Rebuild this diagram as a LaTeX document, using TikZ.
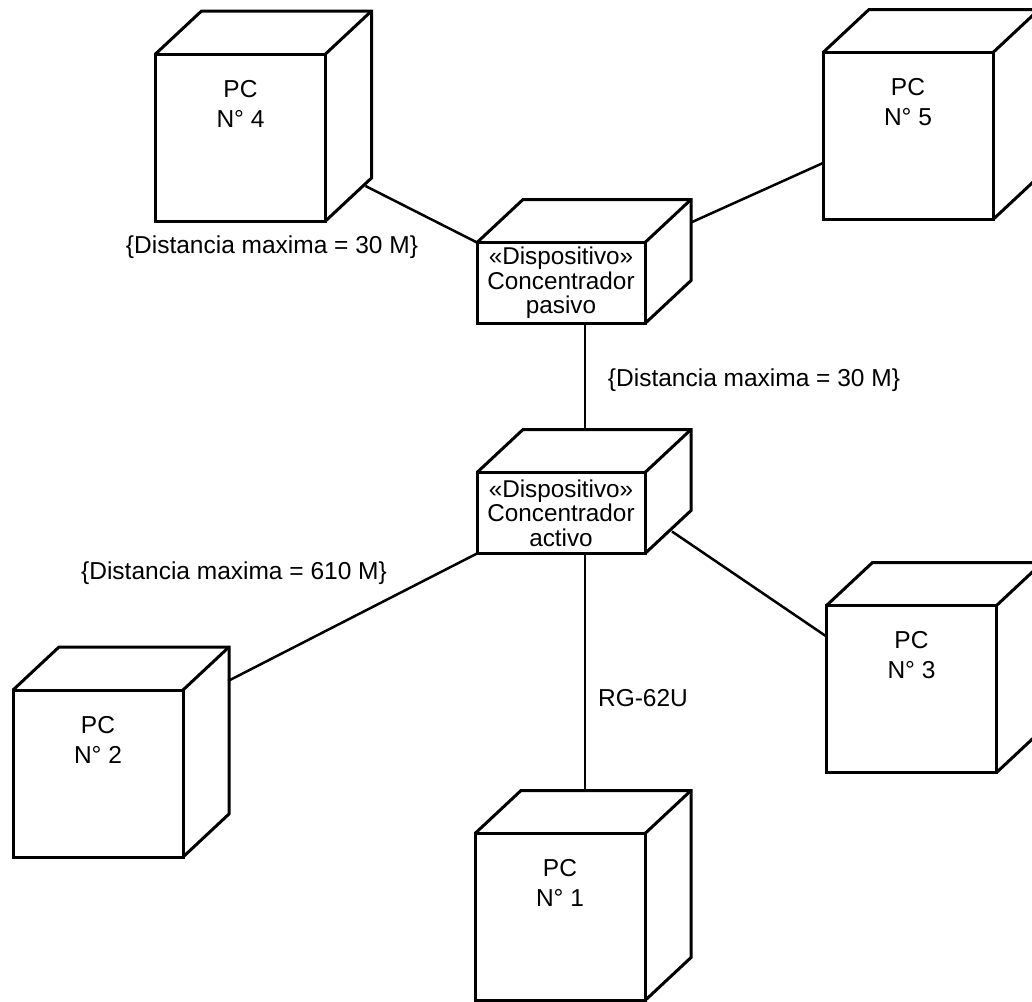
\documentclass[tikz,border=0pt]{standalone}
\usepackage{fontspec}
\setmainfont{Liberation Sans}
\usetikzlibrary{calc}
\newcommand\cubefaces[1]{%
  \draw[boxline] (#1.north west) -- ++(46,-43) -- ($(#1.north east)+(46,-43)$)
    -- ($(#1.south east)+(46,-43)$) -- (#1.south east);
  \draw[boxline] (#1.north east) -- ++(46,-43);}
\begin{document}
\begin{tikzpicture}[x=1pt,y=-1pt,
  boxline/.style={line width=3pt, line join=miter},
  pcbox/.style={draw, boxline, minimum width=170pt, minimum height=167pt, inner sep=0pt, outer sep=0pt},
  hubbox/.style={draw, boxline, minimum width=168pt, minimum height=81pt, inner sep=0pt, outer sep=0pt,
    align=center, font=\fontsize{24.3}{24.5}\selectfont},
  pctext/.style={anchor=north, align=center, inner sep=0pt, font=\fontsize{24.5}{30}\selectfont},
  lbl/.style={inner sep=0pt, font=\fontsize{24.5}{30}\selectfont},
  conn/.style={line width=2.5pt}]
\clip (0,0) rectangle (1032,1001);
\fill[white] (0,0) rectangle (1032,1001);
% boxes
\node[pcbox] (pc4) at (240.5,137.5) {};
\node[pcbox] (pc5) at (908,136) {};
\node[hubbox] (pasivo) at (561,283) {«Dispositivo»\\Concentrador\\pasivo};
\node[hubbox] (activo) at (561,513) {«Dispositivo»\\Concentrador\\activo};
\node[pcbox] (pc2) at (98,773.5) {};
\node[pcbox] (pc3) at (911.5,689) {};
\node[pcbox] (pc1) at (560,917) {};
\foreach \n in {pc4,pc5,pasivo,activo,pc2,pc3,pc1} {\cubefaces{\n}}
% texts in PCs
\node[pctext] (pc4t) at ($(pc4.north)+(0,26)$) {PC\\N° 4};
\node[pctext] (pc5t) at ($(pc5.north)+(0,26)$) {PC\\N° 5};
\node[pctext] (pc2t) at ($(pc2.north)+(0,26)$) {PC\\N° 2};
\node[pctext] (pc3t) at ($(pc3.north)+(0,26)$) {PC\\N° 3};
\node[pctext] (pc1t) at ($(pc1.north)+(0,26)$) {PC\\N° 1};
% connectors
\coordinate (c4) at ($(pc4.south east)+(40,-35)$);
\coordinate (c5) at ($(pc5.west)+(0,27)$);
\coordinate (cp5) at ($(pasivo.north east)+(46,-20)$);
\coordinate (cpa) at ($(pasivo.south)+(24,0)$);
\coordinate (cat) at ($(activo.north)+(24,-43)$);
\coordinate (cab) at ($(activo.south)+(24,0)$);
\coordinate (c1) at ($(pc1.north)+(25,-42)$);
\coordinate (c2) at ($(pc2.north east)+(45,-9)$);
\coordinate (ca3) at ($(activo.south east)+(27,-22)$);
\coordinate (c3) at ($(pc3.north west)+(0,31)$);
\draw[conn] (c4) -- (pasivo.north west);
\draw[conn] (cp5) -- (c5);
\draw[conn] (cpa) -- (cat);
\draw[conn] (cab) -- (c1);
\draw[conn] (activo.south west) -- (c2);
\draw[conn] (ca3) -- (c3);
% labels
\node[lbl] (l1) at (272,247) {\{Distancia maxima = 30 M\}};
\node[lbl] (l2) at (754,380) {\{Distancia maxima = 30 M\}};
\node[lbl] (l3) at (234,573) {\{Distancia maxima = 610 M\}};
\node[lbl] (l4) at (643,698) {RG-62U};
\end{tikzpicture}
\end{document}
